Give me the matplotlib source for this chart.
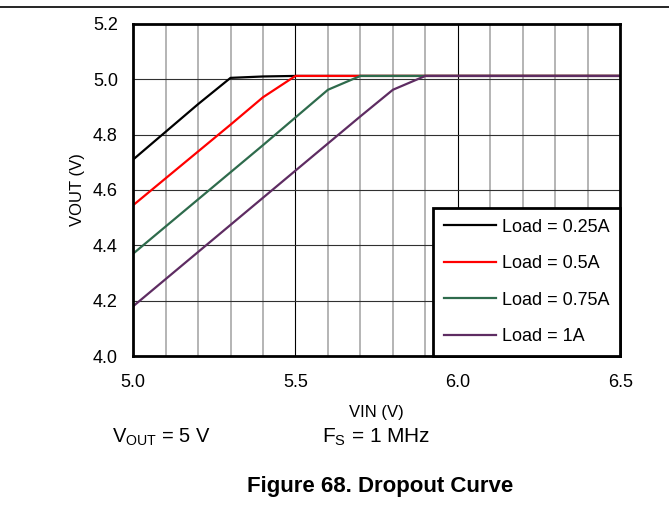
import numpy as np
import matplotlib
matplotlib.use("Agg")
import matplotlib.pyplot as plt

plt.rcParams['font.family'] = ['Liberation Sans', 'DejaVu Sans']

# VIN (V) sample points
vin = [5.0, 5.1, 5.2, 5.3, 5.4, 5.5, 5.6, 5.7, 5.8, 5.9, 6.0, 6.1, 6.2, 6.3, 6.4, 6.5]

# VOUT (V) for each load
vout_025 = [4.71, 4.81, 4.91, 5.005, 5.010, 5.012, 5.012, 5.012, 5.012, 5.012, 5.012, 5.012, 5.012, 5.012, 5.012, 5.012]
vout_05 = [4.545, 4.642, 4.739, 4.836, 4.935, 5.012, 5.012, 5.012, 5.012, 5.012, 5.012, 5.012, 5.012, 5.012, 5.012, 5.012]
vout_075 = [4.37, 4.468, 4.566, 4.664, 4.762, 4.862, 4.962, 5.012, 5.012, 5.012, 5.012, 5.012, 5.012, 5.012, 5.012, 5.012]
vout_1 = [4.18, 4.278, 4.376, 4.474, 4.572, 4.670, 4.768, 4.866, 4.962, 5.012, 5.012, 5.012, 5.012, 5.012, 5.012, 5.012]

labels = ['Load = 0.25A', 'Load = 0.5A', 'Load = 0.75A', 'Load = 1A']
colors = ['#000000', '#ff0000', '#2e6b4c', '#5e2c62']

fig = plt.figure(figsize=(6.69, 5.08), dpi=100)
ax = fig.add_axes([0.199, 0.299, 0.728, 0.654])

# grid: gray every 0.1 V, black every 0.5 V
for x in np.arange(5.1, 6.45, 0.1):
    if abs(round(x * 2) - x * 2) < 1e-6:
        ax.axvline(x, color='black', lw=0.8, zorder=1)
    else:
        ax.axvline(x, color='#b4b4b4', lw=1.4, zorder=1)
for y in [4.2, 4.4, 4.6, 4.8, 5.0]:
    ax.axhline(y, color='#303030', lw=0.8, zorder=1)

for ys, c, lab in zip([vout_025, vout_05, vout_075, vout_1], colors, labels):
    ax.plot(vin, ys, color=c, lw=1.6, label=lab, zorder=3)

ax.set_xlim(5.0, 6.5)
ax.set_ylim(4.0, 5.2)
ax.set_xticks([5.0, 5.5, 6.0, 6.5])
ax.set_xticklabels(['5.0', '5.5', '6.0', '6.5'])
ax.set_yticks([4.0, 4.2, 4.4, 4.6, 4.8, 5.0, 5.2])
ax.set_yticklabels(['4.0', '4.2', '4.4', '4.6', '4.8', '5.0', '5.2'])
ax.tick_params(length=0, labelsize=13)
ax.tick_params(axis='y', pad=11)
ax.tick_params(axis='x', pad=13)
for s in ax.spines.values():
    s.set_linewidth(2)
    s.set_zorder(5)

ax.set_xlabel('VIN (V)', fontsize=12, labelpad=10)
ax.set_ylabel('VOUT (V)', fontsize=12, labelpad=6)

leg = ax.legend(loc='lower right', fontsize=13, fancybox=False, framealpha=1,
                edgecolor='black', borderpad=0.6, labelspacing=1.08,
                handlelength=2.9, handletextpad=0.3, borderaxespad=0.0)
leg.get_frame().set_linewidth(2)
leg.set_zorder(6)

# top rule line of the page
fig.add_artist(plt.Line2D([0, 1], [0.986, 0.986], color='black', lw=1.2))

fig.text(0.168, 0.140, r'V$_{\mathregular{OUT}}$ = 5 V', fontsize=14.5, va='center')
fig.text(0.481, 0.140, r'F$_{\mathregular{S}}$ = 1 MHz', fontsize=15, va='center')
fig.text(0.568, 0.043, 'Figure 68. Dropout Curve', fontsize=16, fontweight='bold',
         ha='center', va='center')

fig.savefig('out.png', dpi=100)
